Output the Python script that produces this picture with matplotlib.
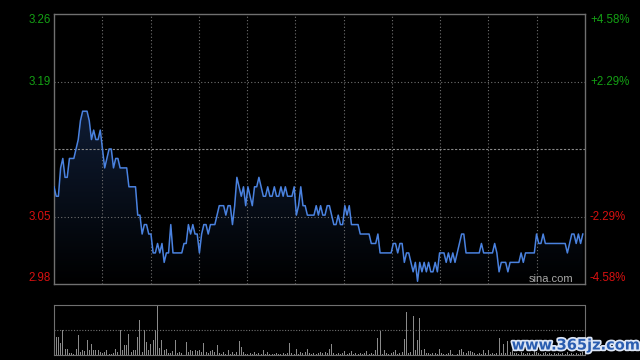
import numpy as np
import matplotlib.pyplot as plt
from matplotlib import patheffects
from matplotlib.colors import LinearSegmentedColormap

# minute prices (241 points, 9:30 - 15:00)
prices = [
    3.08, 3.07, 3.07, 3.10, 3.11, 3.09, 3.09, 3.11, 3.11, 3.11,
    3.12, 3.13, 3.15, 3.16, 3.16, 3.16, 3.15, 3.13, 3.14, 3.13,
    3.13, 3.14, 3.12, 3.10, 3.11, 3.12, 3.12, 3.10, 3.11, 3.11,
    3.10, 3.10, 3.10, 3.10, 3.08, 3.08, 3.08, 3.08, 3.05, 3.05,
    3.03, 3.04, 3.04, 3.03, 3.03, 3.01, 3.01, 3.02, 3.01, 3.02,
    3.00, 3.01, 3.01, 3.04, 3.01, 3.01, 3.01, 3.01, 3.01, 3.02,
    3.02, 3.04, 3.03, 3.04, 3.03, 3.03, 3.01, 3.03, 3.04, 3.04,
    3.03, 3.04, 3.04, 3.04, 3.05, 3.06, 3.06, 3.06, 3.05, 3.06,
    3.06, 3.04, 3.06, 3.09, 3.08, 3.07, 3.08, 3.06, 3.08, 3.07,
    3.06, 3.08, 3.08, 3.09, 3.08, 3.07, 3.07, 3.08, 3.07, 3.07,
    3.08, 3.07, 3.07, 3.08, 3.07, 3.08, 3.07, 3.07, 3.07, 3.08,
    3.05, 3.06, 3.08, 3.06, 3.06, 3.05, 3.05, 3.05, 3.05, 3.06,
    3.05, 3.06, 3.05, 3.05, 3.06, 3.06, 3.05, 3.04, 3.04, 3.05,
    3.04, 3.04, 3.06, 3.05, 3.06, 3.04, 3.04, 3.04, 3.04, 3.03,
    3.03, 3.03, 3.03, 3.03, 3.02, 3.02, 3.02, 3.03, 3.01, 3.01,
    3.01, 3.01, 3.01, 3.01, 3.02, 3.02, 3.01, 3.02, 3.02, 3.00,
    3.01, 3.01, 3.00, 2.99, 3.00, 2.98, 3.00, 2.99, 3.00, 2.99,
    3.00, 2.99, 2.99, 3.00, 2.99, 3.01, 3.01, 3.01, 3.00, 3.01,
    3.00, 3.01, 3.00, 3.01, 3.02, 3.03, 3.03, 3.01, 3.01, 3.01,
    3.01, 3.01, 3.01, 3.01, 3.02, 3.01, 3.01, 3.01, 3.01, 3.01,
    3.02, 3.01, 2.99, 3.00, 3.00, 3.00, 2.99, 3.00, 3.00, 3.00,
    3.00, 3.00, 3.01, 3.00, 3.01, 3.01, 3.01, 3.01, 3.01, 3.03,
    3.02, 3.02, 3.03, 3.02, 3.02, 3.02, 3.02, 3.02, 3.02, 3.02,
    3.02, 3.02, 3.02, 3.01, 3.02, 3.03, 3.03, 3.02, 3.03, 3.02,
    3.03,
]

# minute volumes (relative units, tallest bar = 100)
volumes = [
    25, 37, 37, 25, 50, 13, 13, 5, 4, 3,
    13, 40, 7, 11, 8, 31, 10, 22, 10, 10,
    10, 7, 5, 7, 10, 3, 3, 5, 13, 7,
    50, 10, 20, 20, 43, 7, 10, 11, 37, 71,
    7, 50, 27, 10, 23, 30, 50, 100, 15, 30,
    10, 13, 5, 5, 8, 31, 5, 7, 5, 7,
    26, 7, 10, 8, 10, 8, 11, 7, 25, 7,
    5, 8, 10, 7, 20, 5, 3, 7, 3, 10,
    3, 7, 3, 7, 28, 17, 7, 3, 3, 5,
    3, 7, 3, 5, 3, 10, 3, 7, 3, 3,
    3, 5, 3, 3, 5, 3, 5, 25, 5, 3,
    13, 3, 7, 5, 7, 13, 5, 3, 5, 3,
    5, 7, 5, 7, 5, 13, 22, 5, 3, 5,
    3, 5, 8, 3, 5, 8, 3, 5, 3, 5,
    3, 5, 8, 3, 5, 3, 10, 35, 48, 3,
    11, 5, 3, 5, 7, 11, 3, 5, 7, 33,
    86, 5, 7, 78, 10, 30, 75, 10, 13, 5,
    5, 3, 5, 5, 3, 13, 5, 3, 3, 5,
    10, 3, 5, 3, 10, 13, 7, 5, 8, 8,
    7, 5, 3, 5, 3, 10, 5, 10, 3, 5,
    3, 5, 35, 5, 22, 5, 28, 7, 10, 5,
    5, 3, 7, 5, 3, 5, 5, 3, 25, 7,
    5, 3, 5, 7, 3, 5, 3, 5, 3, 5,
    3, 5, 3, 7, 3, 5, 3, 5, 3, 5,
    7,
]

prev_close = 3.12
price_labels = ["3.26", "3.19", "3.05", "2.98"]
pct_labels = ["+4.58%", "+2.29%", "-2.29%", "-4.58%"]

green = "#14a014"
red = "#d81010"
grid_c = "#707070"
W, H = 640, 360

fig = plt.figure(figsize=(6.4, 3.6), dpi=100, facecolor="black")
ax = fig.add_axes([54 / W, 76 / H, 531 / W, 270 / H])
ax.set_facecolor("black")

x = np.arange(len(prices))
lo = prev_close * (1 - 0.0458)
hi = prev_close * (1 + 0.0458)

# gradient fill under the price line
poly = ax.fill_between(x, prices, lo, color="none", lw=0)
cmap = LinearSegmentedColormap.from_list("fade", ["#000000", "#0f1c33"])
grad = np.linspace(1, 0, 256).reshape(-1, 1)
im = ax.imshow(grad, extent=[0, 241, lo, max(prices)], aspect="auto",
               cmap=cmap, zorder=1)
im.set_clip_path(poly.get_paths()[0], transform=ax.transData)

ax.plot(x, prices, color="#4a82e0", lw=1.1, zorder=3)

ax.set_xlim(0, 241)
ax.set_ylim(lo, hi)
ax.set_aspect("auto")
ax.set_xticks([])
ax.set_yticks([])
for s in ax.spines.values():
    s.set_color("#707070")
    s.set_linewidth(1)

# grid
for k in range(1, 11):
    ax.axvline(241 * k / 11, color=grid_c, lw=0.8, ls=(0, (1, 2)), zorder=2)
for p in [prev_close * 1.0229, prev_close * (1 - 0.0229)]:
    ax.axhline(p, color=grid_c, lw=0.8, ls=(0, (1, 2)), zorder=2)
ax.axhline(prev_close, color="#8a8a8a", lw=0.8, ls=(0, (2, 1.5)), zorder=2)

# axis labels
label_y = [20, 82, 217, 278]
for lab, pl, yy in zip(price_labels, pct_labels, label_y):
    c = green if lab in ("3.26", "3.19") else red
    fig.text(51 / W, 1 - yy / H, lab, color=c, fontsize=8.3,
             family="Liberation Sans", ha="right", va="center")
    fig.text(590 / W, 1 - yy / H, pl, color=c, fontsize=8.3,
             family="Liberation Sans", ha="left", va="center")

fig.text(573 / W, 1 - 279 / H, "sina.com", color="#a8a8a8", fontsize=8,
         family="Liberation Sans", ha="right", va="center")

# volume panel
vax = fig.add_axes([54 / W, 5 / H, 531 / W, 50 / H])
vax.set_facecolor("black")
vax.bar(x, volumes, width=0.45, color="#8a8a8a", align="center")
vax.set_xlim(0, 241)
vax.set_ylim(0, 100)
vax.set_xticks([])
vax.set_yticks([])
for s in vax.spines.values():
    s.set_color("#707070")
vax.spines["top"].set_linestyle((0, (1, 1)))
vax.spines["bottom"].set_linestyle((0, (1, 1)))
vax.axhline(50, color=grid_c, lw=0.8, ls=(0, (1, 1.5)))

wm = fig.text(576 / W, 1 - 345 / H, "www.365jz.com", color="#2a5db0",
              fontsize=10.5, fontweight="bold", family="DejaVu Sans",
              ha="center", va="center")
wm.set_path_effects([patheffects.withStroke(linewidth=2.5, foreground="#dde6f5")])

fig.savefig("out.png", dpi=100, facecolor="black")
